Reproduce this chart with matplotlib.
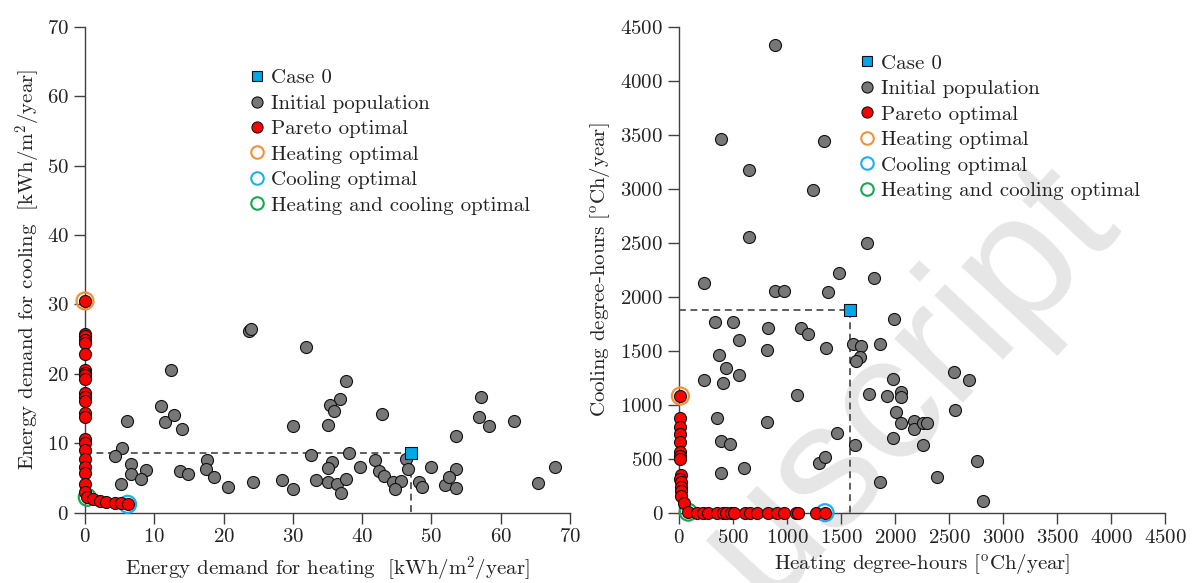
import matplotlib
matplotlib.use("Agg")
import matplotlib.pyplot as plt
from matplotlib.lines import Line2D

plt.rcParams['font.family'] = 'serif'
plt.rcParams['font.serif'] = ['cmr10']
plt.rcParams['mathtext.fontset'] = 'cm'
plt.rcParams['axes.unicode_minus'] = False
plt.rcParams['axes.formatter.use_mathtext'] = True

# ---- left panel: energy demand [kWh/m2/year] ----
heat_init_L = [23.6, 24.0, 12.4, 10.9, 11.5, 12.9, 13.95, 6.1, 5.4, 4.33,
               6.64, 6.6, 8.76, 8.03, 5.15, 13.75, 14.8, 17.65, 17.5, 18.66,
               20.7, 24.3, 28.5, 30.0, 30.0, 31.85, 37.6, 36.8, 35.3, 36.0,
               42.86, 35.1, 32.6, 38.1, 35.7, 35.0, 39.7, 41.9, 42.5, 43.1,
               46.3, 46.6, 50.0, 53.6, 53.5, 57.1, 56.8, 58.3, 61.95, 67.8,
               65.4, 33.4, 35.0, 36.4, 37.6, 36.9, 44.4, 45.6, 44.8, 48.2,
               48.6, 51.9, 52.5, 53.6]
cool_init_L = [26.2, 26.4, 20.6, 15.3, 13.1, 14.1, 12.0, 13.2, 9.3, 8.2,
               7.0, 5.55, 6.08, 4.83, 4.15, 5.98, 5.55, 7.57, 6.3, 5.16,
               3.63, 4.4, 4.64, 3.43, 12.5, 23.8, 18.96, 16.3, 15.45, 14.6,
               14.25, 12.57, 8.33, 8.53, 7.24, 6.46, 6.56, 7.52, 6.03, 5.3,
               7.71, 6.32, 6.56, 6.27, 11.0, 16.7, 13.77, 12.47, 13.15, 6.56,
               4.25, 4.69, 4.4, 4.15, 4.79, 2.85, 4.4, 4.5, 3.34, 4.44,
               3.72, 4.0, 5.12, 3.49]

heat_par_L = [0.0, 0.0, 0.0, 0.0, 0.0, 0.0, 0.0, 0.0, 0.0, 0.0, 0.0,
              0.0, 0.0, 0.0, 0.0, 0.0, 0.0, 0.0, 0.0, 0.0, 0.0, 0.05, 0.0,
              0.33, 1.2, 2.16, 3.1, 4.3, 5.2, 6.15]
cool_par_L = [25.8, 25.45, 24.9, 24.4, 22.85, 20.6, 20.15, 19.8, 19.3, 17.2, 16.6,
              16.1, 14.4, 13.8, 10.55, 10.0, 9.0, 7.76, 6.6, 5.74, 4.1, 3.0, 30.5,
              2.19, 2.0, 1.66, 1.47, 1.4, 1.3, 1.18]

case0_L = (47.0, 8.6)
heat_opt_L = (0.0, 30.5)
cool_opt_L = (6.15, 1.18)
both_opt_L = (0.33, 2.19)

# ---- right panel: degree-hours [oCh/year] ----
heat_init_R = [887, 389, 1338, 646, 1236, 646, 1742, 229, 1477, 1807,
               890, 970, 1381, 331, 498, 825, 1125, 1190, 1992, 556,
               815, 1359, 1606, 1680, 1674, 1637, 1860, 368, 433, 553,
               229, 405, 1093, 1755, 1921, 1977, 2005, 346, 815, 1464,
               389, 467, 1625, 1980, 597, 1297, 1347, 384, 1857, 2054,
               2051, 2051, 2177, 2177, 2258, 2298, 2255, 2542, 2681, 2552,
               2385, 2758, 2814]
cool_init_R = [4333, 3462, 3447, 3178, 2987, 2554, 2499, 2125, 2221, 2177,
               2054, 2054, 2045, 1764, 1770, 1714, 1708, 1659, 1795, 1600,
               1510, 1523, 1566, 1545, 1440, 1403, 1560, 1458, 1344, 1276,
               1226, 1202, 1088, 1100, 1081, 1236, 936, 875, 838, 741,
               664, 637, 630, 692, 417, 463, 513, 371, 284, 1121,
               1069, 831, 852, 778, 828, 834, 627, 1304, 1230, 952,
               334, 479, 108]

heat_par_R = [5, 10, 5, 5, 10, 5, 10, 15, 10, 15, 20, 15, 20, 40, 10,
              83, 161, 217, 263, 346, 408, 430, 476, 507, 609, 655, 717,
              819, 908, 970, 1081, 1103, 1267, 1350]
cool_par_R = [874, 797, 729, 652, 559, 528, 497, 349, 312, 287, 235, 204, 155, 93, 1081,
              5, 0, 0, 0, 0, 0, 0, 0, 0, 0, 0, 0,
              0, 0, 0, 0, 0, 0, 0]

case0_R = (1582, 1881)
heat_opt_R = (10, 1081)
cool_opt_R = (1350, 0)
both_opt_R = (83, 5)

grey = '#777777'
red = '#ff0000'
blue = '#00a8e8'
orange = '#f5903a'
cyan = '#1cb0ee'
green = '#1aa552'
axcol = '#404040'
txtcol = '#222222'
fs = 15

fig = plt.figure(figsize=(11.95, 5.83), dpi=100)

# watermark behind everything
fig.text(0.76, 0.345, 'uscript', fontsize=128, family='Liberation Sans',
         color='#e6e6e6', rotation=47, ha='center', va='center', zorder=-5)

ax1 = fig.add_axes([85 / 1195, 1 - 512.5 / 583, 485 / 1195, 485.5 / 583])
ax2 = fig.add_axes([679.3 / 1195, 1 - 512.7 / 583, 485.7 / 1195, 485.7 / 583])


def draw(ax, hx, cy, phx, pcy, case0, hopt, copt, bopt):
    ax.patch.set_alpha(0)
    ax.plot([0, case0[0], case0[0]], [case0[1], case0[1], 0], color='#333333',
            lw=1.1, ls=(0, (4.5, 3)), zorder=2)
    ax.scatter(hx, cy, s=75, c=grey, edgecolors='#111111', linewidths=0.8,
               zorder=3, clip_on=False)
    ax.scatter(phx, pcy, s=75, c=red, edgecolors='#111111', linewidths=0.8,
               zorder=4, clip_on=False)
    ax.scatter([case0[0]], [case0[1]], s=80, marker='s', c=blue,
               edgecolors='#111111', linewidths=0.8, zorder=5, clip_on=False)
    for pt, col in ((hopt, orange), (copt, cyan), (bopt, green)):
        ax.scatter([pt[0]], [pt[1]], s=150, facecolors='none', edgecolors=col,
                   linewidths=1.6, zorder=3.5, clip_on=False)
    for side in ('top', 'right'):
        ax.spines[side].set_visible(False)
    for side in ('left', 'bottom'):
        ax.spines[side].set_color(axcol)
        ax.spines[side].set_linewidth(1.0)
    ax.tick_params(direction='out', length=8, width=1.0, color=axcol,
                   labelsize=fs, labelcolor=txtcol, pad=3.5)


draw(ax1, heat_init_L, cool_init_L, heat_par_L, cool_par_L,
     case0_L, heat_opt_L, cool_opt_L, both_opt_L)
draw(ax2, heat_init_R, cool_init_R, heat_par_R, cool_par_R,
     case0_R, heat_opt_R, cool_opt_R, both_opt_R)

ax1.set_xlim(0, 70)
ax1.set_ylim(0, 70)
ax1.set_xticks(range(0, 71, 10))
ax1.set_yticks(range(0, 71, 10))
ax1.set_xlabel(r'Energy demand for heating  [kWh/m$^2$/year]', fontsize=fs,
               color=txtcol, labelpad=6)
ax1.set_ylabel(r'Energy demand for cooling  [kWh/m$^2$/year]', fontsize=fs,
               color=txtcol, labelpad=3)

ax2.set_xlim(0, 4500)
ax2.set_ylim(0, 4500)
ax2.set_xticks(range(0, 4501, 500))
ax2.set_yticks(range(0, 4501, 500))
ax2.set_xlabel(r'Heating degree-hours [$^{\rm o}$Ch/year]', fontsize=fs,
               color=txtcol, labelpad=4)
ax2.set_ylabel(r'Cooling degree-hours [$^{\rm o}$Ch/year]', fontsize=fs,
               color=txtcol, labelpad=6)

handles = [
    Line2D([], [], ls='none', marker='s', ms=7, mfc=blue, mec='#111111', mew=0.8),
    Line2D([], [], ls='none', marker='o', ms=8, mfc=grey, mec='#111111', mew=0.8),
    Line2D([], [], ls='none', marker='o', ms=8, mfc=red, mec='#111111', mew=0.8),
    Line2D([], [], ls='none', marker='o', ms=9, mfc='none', mec=orange, mew=1.5),
    Line2D([], [], ls='none', marker='o', ms=9, mfc='none', mec=cyan, mew=1.5),
    Line2D([], [], ls='none', marker='o', ms=9, mfc='none', mec=green, mew=1.5),
]
labels = ['Case 0', 'Initial population', 'Pareto optimal', 'Heating optimal',
          'Cooling optimal', 'Heating and cooling optimal']

for ax, anchor in ((ax1, (0.3375, 0.914)), (ax2, (0.369, 0.944))):
    leg = ax.legend(handles, labels, loc='upper left', bbox_to_anchor=anchor,
                    frameon=False, fontsize=fs, borderpad=0, borderaxespad=0,
                    handlelength=0.8, handletextpad=0.27, labelspacing=0.33)
    for t in leg.get_texts():
        t.set_color(txtcol)

fig.savefig('out.png', dpi=100)
